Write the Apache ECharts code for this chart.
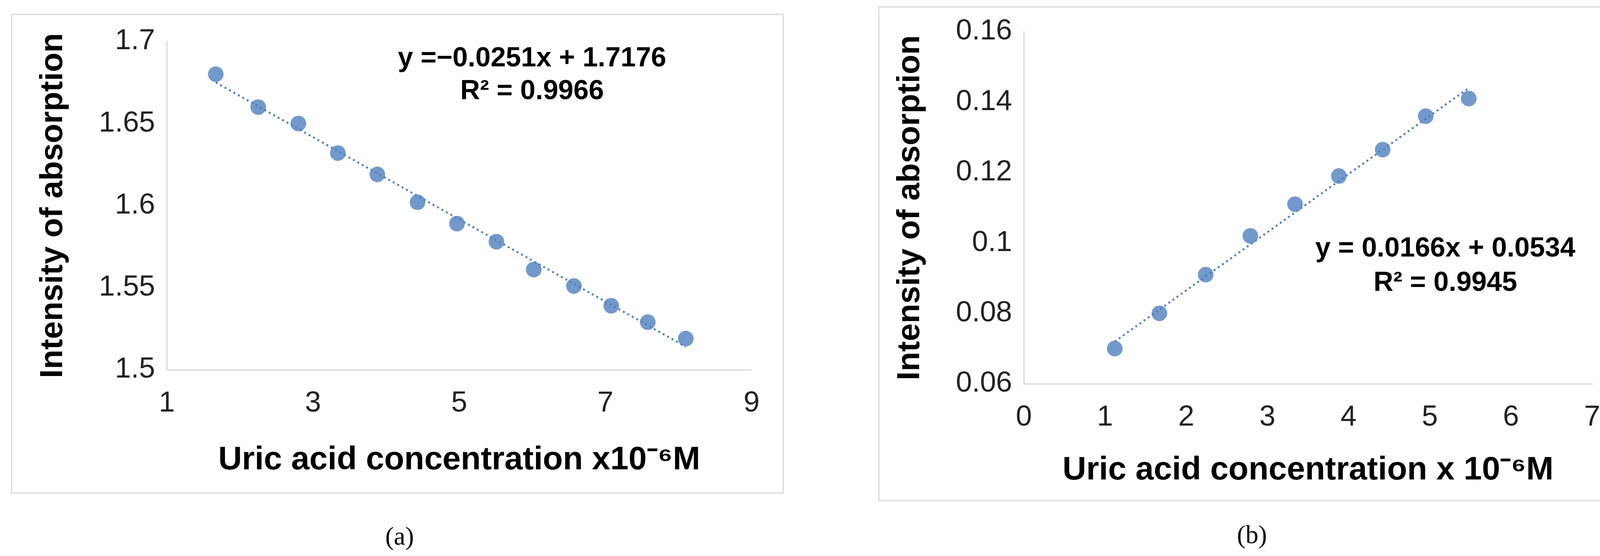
<!DOCTYPE html>
<html>
<head>
<meta charset="utf-8">
<script src="https://cdn.jsdelivr.net/npm/echarts@6/dist/echarts.min.js"></script>
<style>html,body{margin:0;background:#fff}#c{width:4170px;height:1424px}</style>
</head>
<body>
<div id="c"></div>
<script>
// panel (a)
const xA = [1.67, 2.25, 2.80, 3.34, 3.88, 4.43, 4.97, 5.51, 6.02, 6.57, 7.08, 7.58, 8.10];
const yA = [1.680, 1.660, 1.650, 1.632, 1.619, 1.602, 1.589, 1.578, 1.561, 1.551, 1.539, 1.529, 1.519];
const trendA = [[1.67, 1.675], [8.10, 1.514]];
// panel (b)
const xB = [1.12, 1.67, 2.24, 2.79, 3.34, 3.88, 4.42, 4.95, 5.48];
const yB = [0.070, 0.080, 0.091, 0.102, 0.111, 0.119, 0.1265, 0.136, 0.141];
const trendB = [[1.12, 0.072], [5.48, 0.144]];

const blue = '#4f7fbe';
const font = 'Liberation Sans Narrow, Liberation Sans, Arial, sans-serif';
const zip = (xs, ys) => xs.map((x, i) => [x, ys[i]]);

const chart = echarts.init(document.getElementById('c'));

function xAxis(idx, min, max, interval, name, gap) {
  return {
    type: 'value', gridIndex: idx, min, max, interval,
    name, nameLocation: 'middle', nameGap: gap,
    nameTextStyle: { fontFamily: font, fontWeight: 'bold', fontSize: 84, color: '#000' },
    axisLine: { lineStyle: { color: '#d9d9d9', width: 3 } },
    axisTick: { show: false }, splitLine: { show: false },
    axisLabel: { fontFamily: font, fontSize: 74, color: '#222', margin: 50 }
  };
}
function yAxis(idx, min, max, interval, gap) {
  return {
    type: 'value', gridIndex: idx, min, max, interval,
    name: 'Intensity of absorption', nameLocation: 'middle', nameGap: gap,
    nameTextStyle: { fontFamily: 'Liberation Sans, Arial, sans-serif', fontWeight: 'bold', fontSize: 82, color: '#000' },
    axisLine: { show: true, lineStyle: { color: '#d9d9d9', width: 3 } },
    axisTick: { show: false }, splitLine: { show: false },
    axisLabel: { fontFamily: font, fontSize: 74, color: '#222', margin: 30 }
  };
}

chart.setOption({
  animation: false,
  grid: [
    { left: 427, right: 2246, top: 106, bottom: 477 },
    { left: 2621, right: 94, top: 81, bottom: 441 }
  ],
  xAxis: [
    xAxis(0, 1, 9, 2, 'Uric acid concentration x10⁻⁶M', 190),
    xAxis(1, 0, 7, 1, 'Uric acid concentration x 10⁻⁶M', 180)
  ],
  yAxis: [
    yAxis(0, 1.5, 1.7, 0.05, 250),
    yAxis(1, 0.06, 0.16, 0.02, 250)
  ],
  graphic: [
    { type: 'rect', shape: { x: 30, y: 37, width: 1975, height: 1226 }, style: { fill: 'none', stroke: '#d9d9d9', lineWidth: 3 } },
    { type: 'rect', shape: { x: 2250, y: 18, width: 1906, height: 1264 }, style: { fill: 'none', stroke: '#d9d9d9', lineWidth: 3 } },
    { type: 'text', x: 1362, y: 193, style: { text: 'y =−0.0251x + 1.7176\nR² = 0.9966', textAlign: 'center', textVerticalAlign: 'middle', font: 'bold 70px ' + font, lineHeight: 84, fill: '#000' } },
    { type: 'text', x: 3700, y: 682, style: { text: 'y = 0.0166x + 0.0534\nR² = 0.9945', textAlign: 'center', textVerticalAlign: 'middle', font: 'bold 70px ' + font, lineHeight: 88, fill: '#000' } },
    { type: 'text', x: 1023, y: 1378, style: { text: '(a)', textAlign: 'center', textVerticalAlign: 'middle', font: '66px Liberation Serif, serif', fill: '#000' } },
    { type: 'text', x: 3205, y: 1374, style: { text: '(b)', textAlign: 'center', textVerticalAlign: 'middle', font: '66px Liberation Serif, serif', fill: '#000' } }
  ],
  series: [
    { type: 'line', xAxisIndex: 0, yAxisIndex: 0, data: trendA, symbol: 'none', lineStyle: { color: blue, width: 5, type: [5, 8] } },
    { type: 'scatter', xAxisIndex: 0, yAxisIndex: 0, data: zip(xA, yA), symbolSize: 40, itemStyle: { color: blue } },
    { type: 'line', xAxisIndex: 1, yAxisIndex: 1, data: trendB, symbol: 'none', lineStyle: { color: blue, width: 5, type: [5, 8] } },
    { type: 'scatter', xAxisIndex: 1, yAxisIndex: 1, data: zip(xB, yB), symbolSize: 40, itemStyle: { color: blue } }
  ]
});
</script>
</body>
</html>
